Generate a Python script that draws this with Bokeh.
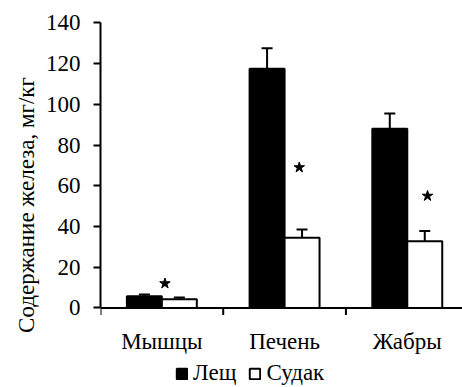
from bokeh.plotting import figure
from bokeh.models import (ColumnDataSource, Range1d, FixedTicker, Whisker, TeeHead,
                          Legend, LegendItem, LinearAxis)
from bokeh.core.properties import value
from bokeh.embed import file_html
from bokeh.resources import INLINE

# Iron content by tissue, mg/kg
categories = ["Мышцы", "Печень", "Жабры"]
lesch = [5.7, 117.5, 88.0]
lesch_err = [0.9, 10.0, 7.5]
sudak = [4.3, 34.5, 32.8]
sudak_err = [0.8, 4.0, 5.0]
# significance marks (value level of each star)
star_level = [12.0, 69.0, 55.0]
y_ticks = [0, 20, 40, 60, 80, 100, 120, 140]

FONT = "Liberation Serif"
FSIZE = "23px"
BAR_W = 0.285
X_END = 2.95
Y_MIN, Y_MAX = -39.1, 140.2          # room below zero for group labels + legend
PX_PER_UNIT = 365 / (Y_MAX - Y_MIN)
star_shift = [0.025, 0.12, 0.165]

idx = list(range(len(categories)))
x_lesch = [i + 0.5 - BAR_W / 2 for i in idx]
x_sudak = [i + 0.5 + BAR_W / 2 for i in idx]

src_l = ColumnDataSource(dict(x=x_lesch, top=lesch,
                              lo=[v - e for v, e in zip(lesch, lesch_err)],
                              hi=[v + e for v, e in zip(lesch, lesch_err)]))
src_s = ColumnDataSource(dict(x=x_sudak, top=sudak,
                              lo=[v - e for v, e in zip(sudak, sudak_err)],
                              hi=[v + e for v, e in zip(sudak, sudak_err)]))
src_star = ColumnDataSource(dict(x=[i + 0.5 + d for i, d in zip(idx, star_shift)],
                                 y=star_level))
src_cat = ColumnDataSource(dict(x=[i + 0.5 for i in idx], y=[0] * len(idx),
                                text=categories))

p = figure(width=462, height=387, output_backend="svg", toolbar_location=None,
           x_range=Range1d(0, X_END), y_range=Range1d(Y_MIN, Y_MAX),
           x_axis_location=None, y_axis_location=None,
           min_border_left=100, min_border_right=0, min_border_top=22,
           min_border_bottom=0)
p.outline_line_color = None
p.xgrid.visible = False
p.ygrid.visible = False
p.background_fill_color = "white"
p.border_fill_color = "white"

r_l = p.vbar(x="x", top="top", width=BAR_W, source=src_l,
             fill_color="black", line_color="black", line_width=2)
r_s = p.vbar(x="x", top="top", width=BAR_W, source=src_s,
             fill_color="white", line_color="black", line_width=2)

for src in (src_l, src_s):
    w = Whisker(base="x", lower="lo", upper="hi", source=src,
                line_color="black", line_width=2,
                upper_head=TeeHead(size=11, line_color="black", line_width=2),
                lower_head=TeeHead(size=11, line_color="black", line_width=2))
    p.add_layout(w)

p.scatter(x="x", y="y", source=src_star, marker="star", size=11,
          fill_color="black", line_color="black")

# category axis along zero: line, boundary ticks, group names
p.segment(x0=0, y0=0, x1=X_END, y1=0, line_color="black", line_width=2)
bounds = [b for b in range(len(categories) + 1) if b <= X_END]
p.segment(x0=bounds, y0=[0] * len(bounds), x1=bounds,
          y1=[-7 / PX_PER_UNIT] * len(bounds), line_color="black", line_width=2)
p.text(x="x", y="y", text="text", source=src_cat, y_offset=34,
       text_align="center", text_baseline="middle",
       text_font=value(FONT), text_font_size=FSIZE, text_color="black")

# value axis: ticks and line only from 0 to 140
ya = LinearAxis(ticker=FixedTicker(ticks=y_ticks, minor_ticks=[]), bounds=(0, 140))
ya.major_tick_out = 7
ya.major_tick_in = 0
ya.major_tick_line_width = 2
ya.major_tick_line_color = "black"
ya.axis_line_width = 2
ya.axis_line_color = "black"
ya.major_label_standoff = 13
ya.major_label_text_font = FONT
ya.major_label_text_font_size = FSIZE
ya.major_label_text_color = "black"
p.add_layout(ya, "left")

# title axis carrying only the rotated label
ta = LinearAxis(ticker=FixedTicker(ticks=[], minor_ticks=[]), bounds=(0, 110.5))
ta.axis_line_color = None
ta.major_tick_line_color = None
ta.minor_tick_line_color = None
ta.major_label_text_font_size = "0px"
ta.axis_label = "Содержание железа, мг/кг"
ta.axis_label_text_font = FONT
ta.axis_label_text_font_size = FSIZE
ta.axis_label_text_font_style = "normal"
ta.axis_label_text_color = "black"
ta.axis_label_standoff = 4
p.add_layout(ta, "left")

legend = Legend(items=[LegendItem(label="Лещ", renderers=[r_l]),
                       LegendItem(label="Судак", renderers=[r_s])],
                orientation="horizontal", location=(75, 1),
                glyph_width=13, glyph_height=13, label_standoff=5, spacing=12,
                padding=0, margin=0, border_line_color=None,
                background_fill_alpha=0,
                label_text_font=FONT, label_text_font_size=FSIZE,
                label_text_color="black")
p.add_layout(legend)

open("out.html", "w").write(file_html(p, INLINE))
